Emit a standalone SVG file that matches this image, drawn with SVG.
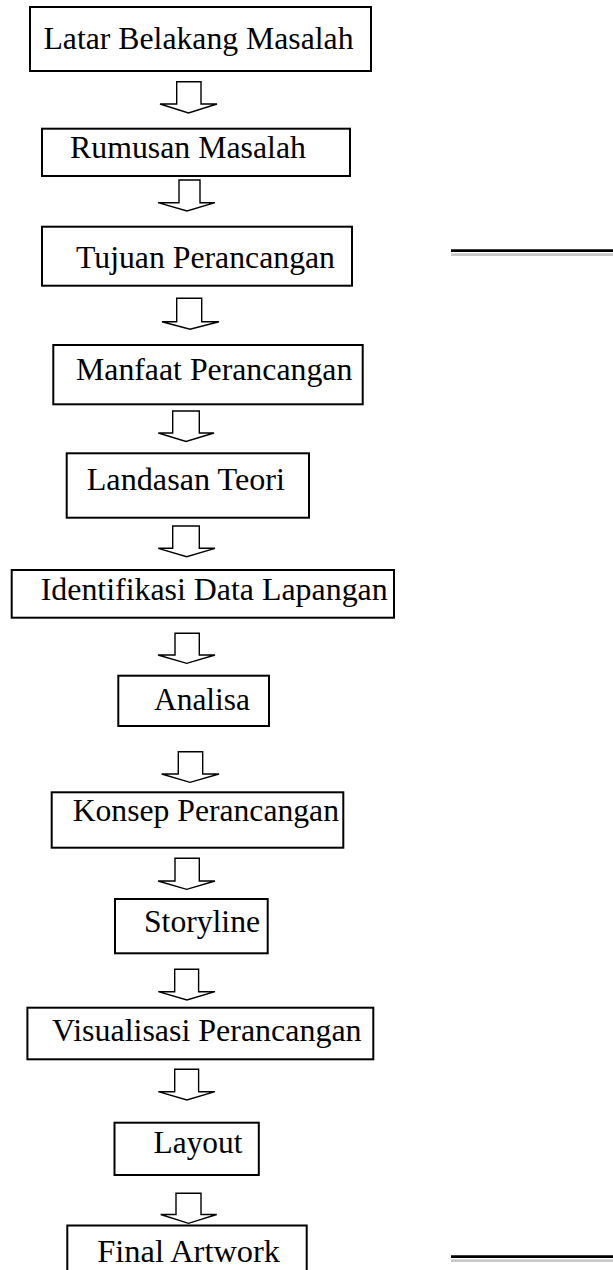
<svg xmlns="http://www.w3.org/2000/svg" width="613" height="1270" viewBox="0 0 613 1270">
<style>
.box{fill:#fff;stroke:#000;stroke-width:2}
.lbl{font-family:"Liberation Serif","Times New Roman",serif;font-size:31px;fill:#000}
.arr{fill:#fff;stroke:#000;stroke-width:1.4;stroke-linejoin:miter}
.blk{stroke:#000;stroke-width:2.7}
.gry{stroke:#c8c8c8;stroke-width:2.7}
</style>
<rect width="613" height="1270" fill="#fff"/>
<g id="connectors">
<path class="arr" d="M176.7,81.7 H201 V104 H217 L188.5,113 L160,104 H176.7 Z"/>
<path class="arr" d="M179,180 H200 V202.7 H215 L187,211 L158,202.7 H179 Z"/>
<path class="arr" d="M176.7,298.3 H201.7 V321.7 H219 L190,329.3 L162,321.7 H176.7 Z"/>
<path class="arr" d="M172.7,411 H199.3 V433 H214 L186,441.5 L158.3,433 H172.7 Z"/>
<path class="arr" d="M172.7,526 H199.3 V548.3 H215 L186.7,556.7 L158.3,548.3 H172.7 Z"/>
<path class="arr" d="M175,633.3 H199.3 V655 H215 L186.7,663.3 L158,655 H175 Z"/>
<path class="arr" d="M178.3,751.7 H202.7 V774 H219 L190,782.3 L161.7,774 H178.3 Z"/>
<path class="arr" d="M175,858.3 H199.3 V881 H215 L186.7,889.3 L158,881 H175 Z"/>
<path class="arr" d="M174.7,969.3 H198.6 V991.7 H215 L186.9,1000 L158.3,991.7 H174.7 Z"/>
<path class="arr" d="M174.7,1069.3 H198.6 V1091.7 H215 L186.9,1100 L158.3,1091.7 H174.7 Z"/>
<path class="arr" d="M176,1193.3 H201 V1214.5 H216.7 L188.5,1223.3 L160.7,1214.5 H176 Z"/>
</g>
<g id="n1"><rect class="box" x="30" y="7" width="341" height="64"/><text class="lbl" x="43.5" y="48.5" textLength="310" lengthAdjust="spacingAndGlyphs">Latar Belakang Masalah</text></g>
<g id="n2"><rect class="box" x="42" y="128.7" width="308" height="47.3"/><text class="lbl" x="70" y="158.3" textLength="236" lengthAdjust="spacingAndGlyphs">Rumusan Masalah</text></g>
<g id="n3"><rect class="box" x="42" y="226.7" width="310" height="59"/><text class="lbl" x="76" y="268.3" textLength="259" lengthAdjust="spacingAndGlyphs">Tujuan Perancangan</text></g>
<g id="n4"><rect class="box" x="53.3" y="345" width="309.4" height="59.3"/><text class="lbl" x="76" y="380" textLength="276.3" lengthAdjust="spacingAndGlyphs">Manfaat Perancangan</text></g>
<g id="n5"><rect class="box" x="66.7" y="453.3" width="242.3" height="64.4"/><text class="lbl" x="86.7" y="490" textLength="198.3" lengthAdjust="spacingAndGlyphs">Landasan Teori</text></g>
<g id="n6"><rect class="box" x="11.7" y="570" width="382.3" height="47.7"/><text class="lbl" x="40.7" y="600" textLength="347" lengthAdjust="spacingAndGlyphs">Identifikasi Data Lapangan</text></g>
<g id="n7"><rect class="box" x="118.3" y="675.7" width="150.7" height="50.3"/><text class="lbl" x="154" y="710" textLength="96" lengthAdjust="spacingAndGlyphs">Analisa</text></g>
<g id="n8"><rect class="box" x="51.7" y="792.3" width="291.6" height="55.4"/><text class="lbl" x="72.7" y="821" textLength="266.3" lengthAdjust="spacingAndGlyphs">Konsep Perancangan</text></g>
<g id="n9"><rect class="box" x="115" y="899" width="152.7" height="54.3"/><text class="lbl" x="144" y="931.7" textLength="116" lengthAdjust="spacingAndGlyphs">Storyline</text></g>
<g id="n10"><rect class="box" x="27.4" y="1007.7" width="345.9" height="51.6"/><text class="lbl" x="52" y="1040.7" textLength="309.6" lengthAdjust="spacingAndGlyphs">Visualisasi Perancangan</text></g>
<g id="n11"><rect class="box" x="114.5" y="1122.7" width="144.3" height="52.3"/><text class="lbl" x="153.6" y="1152.7" textLength="88.8" lengthAdjust="spacingAndGlyphs">Layout</text></g>
<g id="n12"><rect class="box" x="67.3" y="1225.5" width="239.4" height="50"/><text class="lbl" x="97.3" y="1261.7" textLength="182.7" lengthAdjust="spacingAndGlyphs">Final Artwork</text></g>
<g id="rules">
<line class="blk" x1="451" y1="250.7" x2="613" y2="250.7"/>
<line class="gry" x1="451" y1="254.7" x2="613" y2="254.7"/>
<line class="blk" x1="451" y1="1256.7" x2="613" y2="1256.7"/>
<line class="gry" x1="451" y1="1260.7" x2="613" y2="1260.7"/>
</g>
</svg>
